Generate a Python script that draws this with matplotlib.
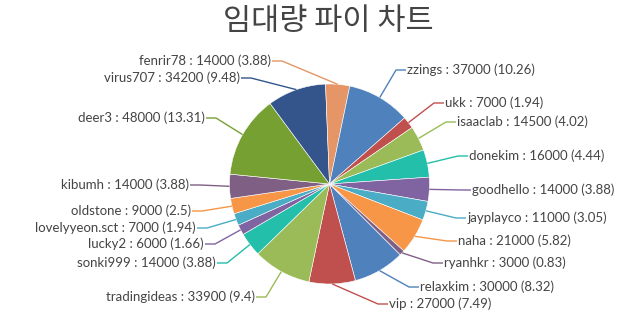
import numpy as np
import matplotlib
matplotlib.use('Agg')
import matplotlib.pyplot as plt

# 데이터 (CanvasJS 순서: relaxkim 부터 시계방향)
names = ['relaxkim', 'vip', 'tradingideas', 'sonki999', 'lucky2', 'lovelyyeon.sct',
         'oldstone', 'kibumh', 'deer3', 'virus707', 'fenrir78', 'zzings', 'ukk',
         'isaaclab', 'donekim', 'goodhello', 'jayplayco', 'naha', 'ryanhkr']
values = [30000, 27000, 33900, 14000, 6000, 7000, 9000, 14000, 48000, 34200,
          14000, 37000, 7000, 14500, 16000, 14000, 11000, 21000, 3000]

palette = ["#4F81BC", "#C0504E", "#9BBB58", "#23BFAA", "#8064A1", "#4AACC5",
           "#F79647", "#7F6084", "#77A033", "#33558B", "#E59566"]
colors = [palette[i % len(palette)] for i in range(len(values))]

# 라벨 위치 (픽셀, 위에서부터)
label_pos = {
    'zzings': (406, 70), 'ukk': (444, 103), 'isaaclab': (456, 122),
    'donekim': (468, 156), 'goodhello': (471, 190), 'jayplayco': (466, 218),
    'naha': (457, 241), 'ryanhkr': (443, 263), 'relaxkim': (419, 287),
    'vip': (388, 304),
    'tradingideas': (256, 297), 'sonki999': (217, 263), 'lucky2': (205, 244),
    'lovelyyeon.sct': (197, 228), 'oldstone': (192, 211), 'kibumh': (190, 185),
    'deer3': (206, 118), 'virus707': (241, 78), 'fenrir78': (272, 61),
}

W, H = 640, 322
cx, cy, r = 329.5, H - 184, 100

fig = plt.figure(figsize=(6.4, 3.22), dpi=100)
ax = fig.add_axes([0, 0, 1, 1])

wedges, _ = ax.pie(values, colors=colors, startangle=-45, counterclock=False,
                   center=(cx, cy), radius=r,
                   wedgeprops=dict(edgecolor='white', linewidth=0.4))
ax.set_xlim(0, W)
ax.set_ylim(0, H)
ax.set_aspect('equal')
ax.axis('off')

total = sum(values)
for w, name, v, c in zip(wedges, names, values, colors):
    mid = np.deg2rad((w.theta1 + w.theta2) / 2)
    ex, ey = cx + r * np.cos(mid), cy + r * np.sin(mid)
    tx, ty = label_pos[name]
    ty = H - ty
    right = tx > cx
    elbow = tx - 10 if right else tx + 10
    ax.plot([ex, elbow, tx], [ey, ty, ty], color=c, lw=1, solid_capstyle='butt')
    pct = round(v / total * 100, 2)
    ax.text(tx + (1 if right else -1), ty, f"{name} : {v} ({pct:g})",
            ha='left' if right else 'right', va='center', fontsize=9.5,
            color='#444444', family=['Lato', 'DejaVu Sans'])

fig.text(328 / W, 1 - 22 / H, '임대량 파이 차트', ha='center', va='center',
         fontsize=22, fontweight='light', color='#444444',
         family=['Noto Sans CJK KR', 'DejaVu Sans'])

fig.savefig('out.png', dpi=100)
